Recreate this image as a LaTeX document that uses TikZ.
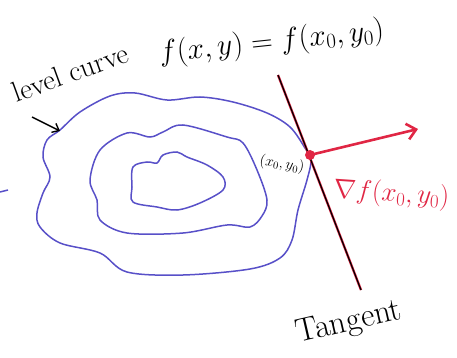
\RequirePackage{fix-cm}
\documentclass[tikz,border=0pt]{standalone}
\usetikzlibrary{arrows.meta}
\definecolor{lvlblue}{RGB}{88,80,200}
\definecolor{gradred}{RGB}{224,38,68}
\begin{document}
\begin{tikzpicture}[x=1pt,y=-1pt,
  lvl/.style={lvlblue,line width=1.5pt},
  grad/.style={gradred,line width=2.6pt},
  lbl/.style={inner sep=0pt,anchor=base west}]
\useasboundingbox (0,0) rectangle (457,358);
% level curves, outer to inner
\draw[lvl] plot[smooth cycle,tension=0.55] coordinates {(60,130) (80,112) (110,96) (135,93) (167,100) (200,97) (233,102) (267,113) (290,127) (305,148) (311,160) (307,180) (298,210) (292,240) (280,258) (250,269) (183,275) (127,272) (100,253) (60,243) (40,227) (37,213) (43,193) (50,177) (43,157) (47,140)};
\draw[lvl] plot[smooth cycle,tension=0.55] coordinates {(90,180) (100,150) (127,133) (150,137) (163,132) (183,125) (227,137) (243,143) (257,170) (267,200) (262,216) (250,227) (227,225) (183,233) (127,233) (100,220) (97,200)};
\draw[lvl] plot[smooth cycle,tension=0.55] coordinates {(133,167) (147,162) (157,163) (163,155) (177,152) (187,157) (207,165) (223,177) (223,190) (200,203) (177,210) (157,207) (133,202) (132,187)};
\draw[lvl] (0,192) -- (8,190);
% tangent line
\coordinate (tT) at (278,75);
\coordinate (tB) at (361,290);
\draw[gradred,line width=2.4pt] (tT) -- (tB);
\draw[black,line width=1.2pt] (tT) -- (tB);
% point and gradient
\node[circle,fill=gradred,inner sep=0pt,minimum size=10pt] (p0) at (310,155) {};
\coordinate (tip) at (418,129);
\draw[grad,-{Straight Barb[length=9pt,width=16pt]}] (p0.center) -- (tip);
% labels
\node[lbl,rotate=20] (lc) at (16,103) {\fontsize{29}{31}\selectfont level curve};
\node[lbl,rotate=6] (eq) at (160,62) {\fontsize{30}{32}\selectfont $f(x,y)=f(x_0,y_0)$};
\coordinate (a1) at (32,117);
\coordinate (a2) at (60,131);
\draw[black,line width=1.4pt,-{Straight Barb[length=6pt,width=10pt]}] (a1) -- (a2);
\node[lbl,rotate=-10] (pt) at (259,164) {\fontsize{15}{17}\selectfont $(x_0,y_0)$};
\node[lbl,rotate=-4,text=gradred] (gl) at (333,197) {\fontsize{27}{29}\selectfont $\nabla f(x_0,y_0)$};
\node[lbl,rotate=13] (tg) at (298,343) {\fontsize{33}{35}\selectfont Tangent};
\end{tikzpicture}
\end{document}
